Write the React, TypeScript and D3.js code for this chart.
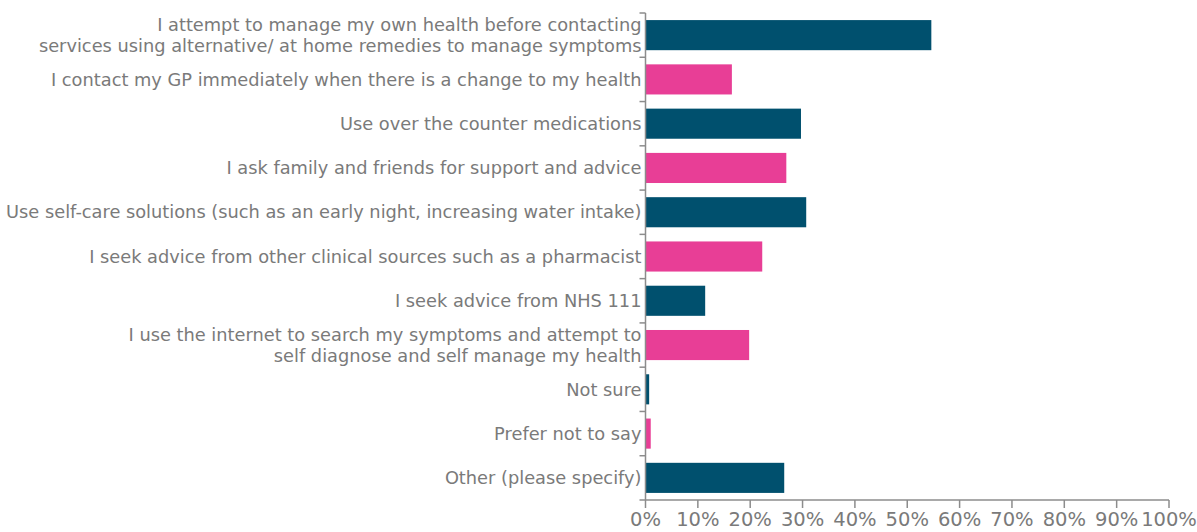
import React from "react";
import * as d3 from "d3";

const categories: string[][] = [
  ["I attempt to manage my own health before contacting", "services using alternative/ at home remedies to manage symptoms"],
  ["I contact my GP immediately when there is a change to my health"],
  ["Use over the counter medications"],
  ["I ask family and friends for support and advice"],
  ["Use self-care solutions (such as an early night, increasing water intake)"],
  ["I seek advice from other clinical sources such as a pharmacist"],
  ["I seek advice from NHS 111"],
  ["I use the internet to search my symptoms and attempt to", "self diagnose and self manage my health"],
  ["Not sure"],
  ["Prefer not to say"],
  ["Other (please specify)"],
];
const values: number[] = [54.6, 16.5, 29.7, 26.9, 30.7, 22.3, 11.4, 19.8, 0.7, 1.0, 26.5];
const ticks: number[] = [0, 10, 20, 30, 40, 50, 60, 70, 80, 90, 100];

const W = 1197, H = 532;
const left = 645.5, right = 1169, top = 13, bottom = 500;
const colors = ["#00506E", "#E83E96"];
const font = "'DejaVu Sans', sans-serif";
const textColor = "#7a7a7a";

export default function App() {
  const x = d3.scaleLinear().domain([0, 100]).range([left, right]);
  const idx = categories.map((_, i) => String(i));
  const y = d3.scaleBand().domain(idx).range([top, bottom]).paddingInner(0.32).paddingOuter(0.16);
  const step = y.step();
  return (
    <svg width={W} height={H} style={{ position: "absolute", left: 0, top: 0 }}>
      {values.map((v, i) => (
        <rect key={i} x={x(0)} y={y(String(i))} width={x(v) - x(0)} height={y.bandwidth()} fill={colors[i % 2]} />
      ))}
      <line x1={left} x2={left} y1={top} y2={bottom} stroke="#8c8c8c" strokeWidth={1.5} />
      <line x1={left} x2={right} y1={bottom} y2={bottom} stroke="#8c8c8c" strokeWidth={1.5} />
      {d3.range(categories.length + 1).map((k) => {
        const yy = top + k * step;
        return <line key={"yt" + k} x1={left - 6} x2={left} y1={yy} y2={yy} stroke="#8c8c8c" strokeWidth={1.5} />;
      })}
      {ticks.map((t) => (
        <g key={"xt" + t}>
          <line x1={x(t)} x2={x(t)} y1={bottom} y2={bottom + 8} stroke="#8c8c8c" strokeWidth={1.5} />
          <text x={x(t)} y={526} textAnchor="middle" fontFamily={font} fontSize={19.5} fill={textColor}>{t + "%"}</text>
        </g>
      ))}
      {categories.map((lines, i) => {
        const cy = (y(String(i)) as number) + y.bandwidth() / 2;
        const lh = 21;
        const y0 = cy - ((lines.length - 1) * lh) / 2;
        return (
          <text key={"l" + i} x={left - 4} textAnchor="end" fontFamily={font} fontSize={17.8} fill={textColor}>
            {lines.map((ln, j) => (
              <tspan key={j} x={left - 4} y={y0 + j * lh} dy="0.35em">{ln}</tspan>
            ))}
          </text>
        );
      })}
    </svg>
  );
}
